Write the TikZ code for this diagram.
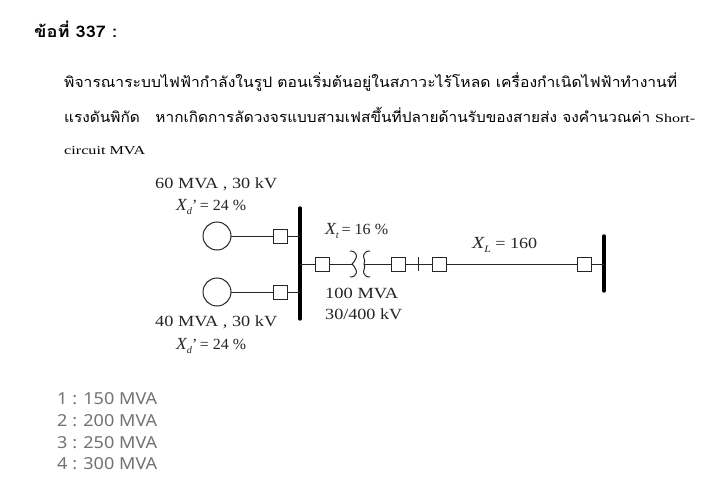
\documentclass[tikz,border=0pt]{standalone}
\usepackage{fontspec}
\usepackage{graphicx}
\setmainfont{Liberation Serif}
\newfontfamily\thaifont[Script=Thai]{Loma}
\newfontfamily\uifont{Noto Sans}
\newcommand\fitw[2]{\resizebox{#1pt}{\height}{#2}}
\newcommand\xsym[2]{{\fontsize{17}{17}\selectfont\itshape #1}\raisebox{-4pt}{\fontsize{10}{10}\selectfont\itshape #2}}
\tikzset{
  x=1pt,y=-1pt,
  wire/.style={draw=black!85,line width=1pt},
  busbar/.style={draw=black,line width=3.4pt,line cap=round},
  breaker/.style={draw=black!85,line width=1pt,fill=white,minimum size=14pt,inner sep=0pt,outer sep=0pt},
  gen/.style={circle,draw=black!85,line width=1pt,fill=white,minimum size=28pt,inner sep=0pt,outer sep=0pt},
  lbl/.style={inner sep=0pt,anchor=base west,font=\fontsize{15.5}{17}\selectfont,text=black!85},
  thaitxt/.style={inner sep=0pt,anchor=base west,font=\thaifont\fontsize{14.4}{16}\selectfont},
  smalltxt/.style={inner sep=0pt,anchor=base west,font=\fontsize{12}{14}\selectfont},
  opt/.style={inner sep=0pt,anchor=base west,font=\uifont\fontsize{16.5}{18}\selectfont,text=black!55},
}
\begin{document}
\begin{tikzpicture}
\useasboundingbox (0,0) rectangle (725,492);
\fill[white] (0,0) rectangle (725,492);
% question text
\node[inner sep=0pt,anchor=base west,font=\thaifont\bfseries\fontsize{16}{18}\selectfont] (title) at (34,38) {\fitw{83}{ข้อที่ 337 :}};
\node[thaitxt] (l1) at (64,88) {\fitw{613}{พิจารณาระบบไฟฟ้ากำลังในรูป ตอนเริ่มต้นอยู่ในสภาวะไร้โหลด เครื่องกำเนิดไฟฟ้าทำงานที่}};
\node[thaitxt] (l2) at (64,123) {\fitw{586}{แรงดันพิกัด\ \ \ หากเกิดการลัดวงจรแบบสามเฟสขึ้นที่ปลายด้านรับของสายส่ง จงคำนวณค่า}};
\node[smalltxt] (l2b) at (655,122) {\fitw{40}{Short-}};
\node[smalltxt] (l3) at (64,154) {\fitw{81}{circuit MVA}};
% buses
\coordinate (b1t) at (300,208); \coordinate (b1b) at (300,319);
\coordinate (b2t) at (604,236); \coordinate (b2b) at (604,291);
\draw[busbar] (b1t) -- (b1b);
\draw[busbar] (b2t) -- (b2b);
% generators
\node[gen] (g1) at (217,236) {};
\node[gen] (g2) at (217,292) {};
\node[breaker] (s1) at (280,236) {};
\node[breaker] (s2) at (280,292) {};
\coordinate (b1a) at (300,236); \coordinate (b1c) at (300,292); \coordinate (b1m) at (300,264);
\draw[wire] (g1) -- (s1) -- (b1a);
\draw[wire] (g2) -- (s2) -- (b1c);
% line to the right
\node[breaker] (s3) at (322,264) {};
\node[breaker] (s4) at (398,264) {};
\node[breaker] (s5) at (439,264) {};
\node[breaker] (s6) at (584,264) {};
\coordinate (tl) at (352,264); \coordinate (tr) at (364,264);
\coordinate (b2m) at (604,264);
\coordinate (tick) at (418,264);
\draw[wire] (b1m) -- (s3) -- (tl);
\draw[wire] (tr) -- (s4) -- (s5) -- (s6) -- (b2m);
\draw[wire] ([yshift=-7pt]tick) -- ([yshift=7pt]tick);
% transformer
\draw[wire] (350,251) .. controls (357,251) and (357,257) .. (356,258) .. controls (355,260) and (354,263) .. (352,264) .. controls (354,265) and (355,268) .. (356,270) .. controls (357,271) and (357,277) .. (350,277);
\draw[wire] (370,251) .. controls (363,251) and (363,257) .. (364,258) .. controls (365,260) and (365,263) .. (364,264) .. controls (365,265) and (365,268) .. (364,270) .. controls (363,271) and (363,277) .. (370,277);
% labels
\node[lbl] (t1) at (155,188) {\fitw{122}{60 MVA , 30 kV}};
\node[lbl] (t2) at (176,210) {\fitw{70}{\xsym{X}{d}'\,= 24 \%}};
\node[lbl] (t3) at (155,326) {\fitw{122}{40 MVA , 30 kV}};
\node[lbl] (t4) at (176,349) {\fitw{70}{\xsym{X}{d}'\,= 24 \%}};
\node[lbl] (t5) at (325,234) {\fitw{63}{\xsym{X}{t}\,= 16 \%}};
\node[lbl] (t6) at (325,298) {\fitw{73}{100 MVA}};
\node[lbl] (t7) at (325,319) {\fitw{77}{30/400 kV}};
\node[lbl] (t8) at (472,248) {\fitw{65}{\xsym{X}{L} = 160}};
% options
\node[opt] (o1) at (57,404) {\fitw{100}{1 : 150 MVA}};
\node[opt] (o2) at (57,426) {\fitw{100}{2 : 200 MVA}};
\node[opt] (o3) at (57,448) {\fitw{100}{3 : 250 MVA}};
\node[opt] (o4) at (57,469) {\fitw{100}{4 : 300 MVA}};
\end{tikzpicture}
\end{document}
